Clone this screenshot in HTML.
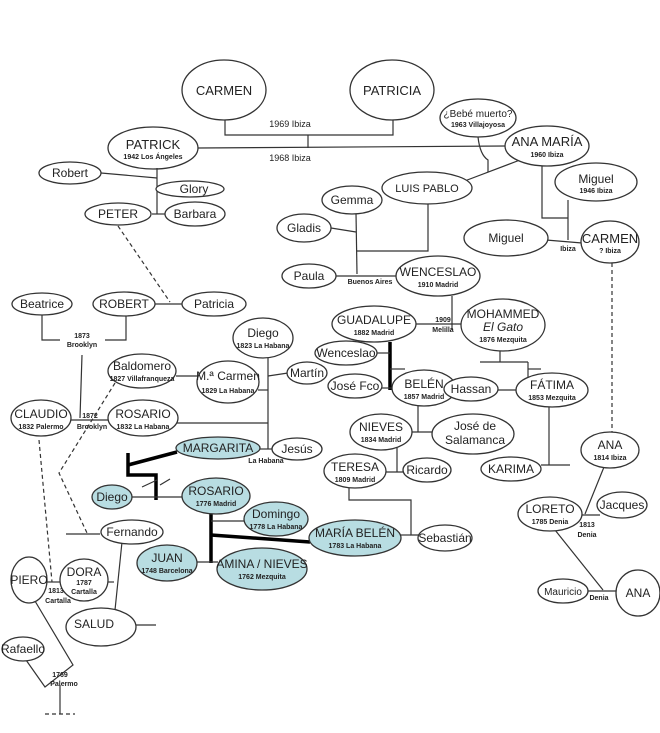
<!DOCTYPE html>
<html><head><meta charset="utf-8"><style>
html,body{margin:0;padding:0;background:#fff;}
svg{display:block;font-family:"Liberation Sans",Arial,sans-serif;}
ellipse{fill:#fff;stroke:#333;stroke-width:1.3}
ellipse.t{fill:#b8dde2}
line,polyline,path{stroke:#333;stroke-width:1.2;fill:none}
.k{stroke:#000;stroke-width:3.5}
.d{stroke-dasharray:4,3}
text{fill:#222;text-anchor:middle}
.n{font-size:12px}
.b{font-size:13px}
.s{font-size:7px;font-weight:bold}
</style></head><body>
<svg width="660" height="733" viewBox="0 0 660 733">
<!-- top -->
<polyline points="225,118 225,135 393,135 393,118"/>
<line x1="308" y1="135" x2="308" y2="148"/>
<line x1="198" y1="148" x2="506" y2="146"/>
<text x="290" y="127" style="font-size:9px">1969 Ibiza</text>
<text x="290" y="161" style="font-size:9px">1968 Ibiza</text>
<ellipse cx="224" cy="90" rx="42" ry="30"/><text class="b" x="224" y="95">CARMEN</text>
<ellipse cx="392" cy="90" rx="42" ry="30"/><text class="b" x="392" y="95">PATRICIA</text>
<path d="M478,137 Q480,155 488,160 L488,172"/>
<line x1="520" y1="160" x2="462" y2="182"/>
<polyline points="542,165 542,218 568,218"/>
<line x1="568" y1="200" x2="568" y2="240"/>
<line x1="546" y1="240" x2="582" y2="243"/>
<text class="s" x="568" y="251">Ibiza</text>
<line class="d" x1="612" y1="263" x2="612" y2="433"/>
<ellipse cx="153" cy="148" rx="45" ry="21"/><text class="b" x="153" y="149">PATRICK</text><text class="s" x="153" y="159">1942 Los Ángeles</text>
<ellipse cx="478" cy="118" rx="38" ry="19"/><text x="478" y="117" style="font-size:10px">¿Bebé muerto?</text><text class="s" x="478" y="127">1963 Villajoyosa</text>
<ellipse cx="547" cy="146" rx="42" ry="20"/><text class="b" x="547" y="146">ANA MARÍA</text><text class="s" x="547" y="157">1960 Ibiza</text>
<ellipse cx="427" cy="188" rx="45" ry="16"/><text x="427" y="192" style="font-size:11px">LUIS PABLO</text>
<ellipse cx="596" cy="182" rx="41" ry="19"/><text class="n" x="596" y="183">Miguel</text><text class="s" x="596" y="193">1946 Ibiza</text>
<ellipse cx="506" cy="238" rx="42" ry="18"/><text class="n" x="506" y="242">Miguel</text>
<ellipse cx="610" cy="242" rx="29" ry="21"/><text class="b" x="610" y="243">CARMEN</text><text class="s" x="610" y="253">? Ibiza</text>
<!-- Gemma group -->
<line x1="356" y1="213" x2="357" y2="274"/>
<line x1="331" y1="228" x2="356" y2="232"/>
<polyline points="357,251 428,251 428,204"/>
<line x1="336" y1="276" x2="398" y2="276"/>
<text class="s" x="370" y="284">Buenos Aires</text>
<ellipse cx="352" cy="200" rx="30" ry="14"/><text class="n" x="352" y="204">Gemma</text>
<ellipse cx="304" cy="228" rx="27" ry="14"/><text class="n" x="304" y="232">Gladis</text>
<ellipse cx="309" cy="276" rx="27" ry="12"/><text class="n" x="309" y="280">Paula</text>
<ellipse cx="438" cy="276" rx="42" ry="20"/><text class="n" x="438" y="276">WENCESLAO</text><text class="s" x="438" y="287">1910 Madrid</text>
<line x1="452" y1="296" x2="452" y2="330"/>
<line x1="416" y1="324" x2="462" y2="324"/>
<text class="s" x="443" y="322">1909</text><text class="s" x="443" y="332">Melilla</text>
<line class="k" x1="390" y1="342" x2="390" y2="390"/>
<line x1="377" y1="353" x2="390" y2="353"/>
<line x1="390" y1="369" x2="405" y2="369"/>
<line x1="382" y1="388" x2="392" y2="388"/>
<polyline points="500,350 500,362"/><line x1="480" y1="362" x2="528" y2="362"/>
<polyline points="528,362 528,390"/><line x1="528" y1="369" x2="541" y2="369"/>
<line x1="498" y1="390" x2="528" y2="390"/>
<line x1="549" y1="407" x2="549" y2="465"/><line x1="541" y1="465" x2="570" y2="465"/>
<ellipse cx="374" cy="324" rx="42" ry="18"/><text class="n" x="374" y="324">GUADALUPE</text><text class="s" x="374" y="335">1882 Madrid</text>
<ellipse cx="503" cy="325" rx="42" ry="26"/><text class="n" x="503" y="318">MOHAMMED</text><text class="n" x="503" y="331" style="font-style:italic">El Gato</text><text class="s" x="503" y="342">1876 Mezquita</text>
<ellipse cx="346" cy="353" rx="31" ry="12"/><text class="n" x="346" y="357">Wenceslao</text>
<ellipse cx="355" cy="386" rx="27" ry="12"/><text class="n" x="355" y="390">José Fco</text>
<ellipse cx="424" cy="388" rx="32" ry="18"/><text class="n" x="424" y="388">BELÉN</text><text class="s" x="424" y="399">1857 Madrid</text>
<ellipse cx="471" cy="389" rx="27" ry="12"/><text class="n" x="471" y="393">Hassan</text>
<ellipse cx="552" cy="390" rx="36" ry="17"/><text class="n" x="552" y="389">FÁTIMA</text><text class="s" x="552" y="400">1853 Mezquita</text>
<ellipse cx="511" cy="469" rx="30" ry="12"/><text class="n" x="511" y="473">KARIMA</text>
<line x1="418" y1="406" x2="418" y2="432"/><line x1="412" y1="432" x2="433" y2="432"/>
<line x1="397" y1="445" x2="397" y2="472"/><line x1="386" y1="472" x2="404" y2="472"/>
<polyline points="349,488 349,500 411,500 411,535 419,535"/>
<line x1="400" y1="535" x2="411" y2="535"/>
<ellipse cx="381" cy="432" rx="31" ry="18"/><text class="n" x="381" y="431">NIEVES</text><text class="s" x="381" y="442">1834 Madrid</text>
<ellipse cx="473" cy="434" rx="41" ry="20"/><text class="n" x="475" y="430">José de</text><text class="n" x="475" y="444">Salamanca</text>
<ellipse cx="355" cy="471" rx="31" ry="17"/><text class="n" x="355" y="471">TERESA</text><text class="s" x="355" y="482">1809 Madrid</text>
<ellipse cx="427" cy="470" rx="24" ry="12"/><text class="n" x="427" y="474">Ricardo</text>
<ellipse cx="445" cy="538" rx="27" ry="13"/><text class="n" x="445" y="542">Sebastián</text>
<!-- right bottom -->
<line x1="604" y1="467" x2="585" y2="514"/>
<line x1="580" y1="515" x2="600" y2="515"/>
<text class="s" x="587" y="527">1813</text><text class="s" x="587" y="537">Denia</text>
<line x1="555" y1="530" x2="603" y2="590"/>
<line x1="588" y1="591" x2="616" y2="591"/>
<text class="s" x="599" y="600">Denia</text>
<ellipse cx="610" cy="450" rx="29" ry="18"/><text class="n" x="610" y="449">ANA</text><text class="s" x="610" y="460">1814 Ibiza</text>
<ellipse cx="550" cy="514" rx="32" ry="17"/><text class="n" x="550" y="513">LORETO</text><text class="s" x="550" y="524">1785 Denia</text>
<ellipse cx="622" cy="505" rx="25" ry="13"/><text class="n" x="622" y="509">Jacques</text>
<ellipse cx="563" cy="591" rx="25" ry="12"/><text x="563" y="595" style="font-size:10px">Mauricio</text>
<ellipse cx="638" cy="593" rx="22" ry="23"/><text class="n" x="638" y="597">ANA</text>
<!-- left top -->
<line x1="101" y1="173" x2="157" y2="178"/>
<line x1="157" y1="168" x2="157" y2="214"/>
<line x1="152" y1="214" x2="165" y2="214"/>
<line x1="157" y1="189" x2="162" y2="189"/>
<line class="d" x1="118" y1="226" x2="170" y2="302"/>
<line x1="155" y1="304" x2="183" y2="304"/>
<ellipse cx="70" cy="173" rx="31" ry="11"/><text class="n" x="70" y="177">Robert</text>
<ellipse cx="190" cy="189" rx="34" ry="8"/><text class="n" x="194" y="193">Glory</text>
<ellipse cx="195" cy="214" rx="30" ry="12"/><text class="n" x="195" y="218">Barbara</text>
<ellipse cx="118" cy="214" rx="33" ry="11"/><text class="n" x="118" y="218">PETER</text>
<ellipse cx="42" cy="304" rx="30" ry="11"/><text class="n" x="42" y="308">Beatrice</text>
<ellipse cx="124" cy="304" rx="31" ry="12"/><text class="n" x="124" y="308">ROBERT</text>
<ellipse cx="214" cy="304" rx="32" ry="12"/><text class="n" x="214" y="308">Patricia</text>
<polyline points="42,315 42,340 60,340"/>
<polyline points="105,340 126,340 126,316"/>
<text class="s" x="82" y="338">1873</text><text class="s" x="82" y="347">Brooklyn</text>
<line x1="82" y1="355" x2="80" y2="418"/>
<line x1="71" y1="420" x2="110" y2="420"/>
<text class="s" x="90" y="418">1872</text><text class="s" x="92" y="429">Brooklyn</text>
<line x1="176" y1="376" x2="198" y2="376"/>
<line x1="268" y1="355" x2="268" y2="449"/>
<line x1="268" y1="376" x2="288" y2="373"/>
<line x1="258" y1="390" x2="268" y2="390"/>
<line x1="177" y1="423" x2="268" y2="423"/>
<line x1="259" y1="449" x2="274" y2="449"/>
<text class="s" x="266" y="463">La Habana</text>
<path class="d" d="M115,383 L59,473 L87,533"/>
<line class="d" x1="39" y1="440" x2="52" y2="582"/>
<ellipse cx="41" cy="418" rx="30" ry="18"/><text class="n" x="41" y="418">CLAUDIO</text><text class="s" x="41" y="429">1832 Palermo</text>
<ellipse cx="143" cy="418" rx="35" ry="18"/><text class="n" x="143" y="418">ROSARIO</text><text class="s" x="143" y="429">1832 La Habana</text>
<ellipse cx="142" cy="371" rx="34" ry="17"/><text class="n" x="142" y="370">Baldomero</text><text class="s" x="142" y="381">1827 Villafranqueza</text>
<ellipse cx="228" cy="382" rx="31" ry="21"/><text class="n" x="228" y="380">M.ª Carmen</text><text class="s" x="228" y="393">1829 La Habana</text>
<ellipse cx="263" cy="338" rx="30" ry="20"/><text class="n" x="263" y="337">Diego</text><text class="s" x="263" y="348">1823 La Habana</text>
<ellipse cx="307" cy="373" rx="20" ry="11"/><text class="n" x="307" y="377">Martín</text>
<ellipse cx="297" cy="449" rx="25" ry="11"/><text class="n" x="297" y="453">Jesús</text>
<!-- teal -->
<polyline class="k" points="177,452 128,465"/>
<polyline class="k" points="128,453 128,475 156,475 156,500"/>
<line x1="142" y1="487" x2="157" y2="480"/>
<line x1="160" y1="485" x2="170" y2="479"/>
<line x1="132" y1="497" x2="183" y2="497"/>
<line class="k" x1="211" y1="513" x2="211" y2="563"/>
<line x1="211" y1="521" x2="245" y2="521"/>
<line class="k" x1="211" y1="535" x2="310" y2="542"/>
<line x1="197" y1="562" x2="218" y2="562"/>
<ellipse class="t" cx="218" cy="448" rx="42" ry="11"/><text class="n" x="218" y="452">MARGARITA</text>
<ellipse class="t" cx="112" cy="497" rx="20" ry="12"/><text class="n" x="112" y="501">Diego</text>
<ellipse class="t" cx="216" cy="496" rx="34" ry="18"/><text class="n" x="216" y="495">ROSARIO</text><text class="s" x="216" y="506">1776 Madrid</text>
<ellipse class="t" cx="276" cy="519" rx="32" ry="17"/><text class="n" x="276" y="518">Domingo</text><text class="s" x="276" y="529">1778 La Habana</text>
<ellipse class="t" cx="355" cy="538" rx="46" ry="18"/><text class="n" x="355" y="537">MARÍA BELÉN</text><text class="s" x="355" y="548">1783 La Habana</text>
<ellipse class="t" cx="167" cy="563" rx="30" ry="18"/><text class="n" x="167" y="562">JUAN</text><text class="s" x="167" y="573">1748 Barcelona</text>
<ellipse class="t" cx="262" cy="569" rx="45" ry="21"/><text class="n" x="262" y="568">AMINA / NIEVES</text><text class="s" x="262" y="579">1762 Mezquita</text>
<!-- bottom left -->
<line x1="66" y1="534" x2="100" y2="534"/>
<line x1="122" y1="542" x2="115" y2="610"/>
<line x1="47" y1="582" x2="60" y2="582"/>
<line x1="108" y1="582" x2="114" y2="582"/>
<line x1="136" y1="625" x2="156" y2="625"/>
<polyline points="26,660 45,687 73,665 32,596"/>
<line x1="60" y1="685" x2="60" y2="714"/>
<line class="d" x1="45" y1="714" x2="75" y2="714"/>
<text class="s" x="60" y="677">1769</text><text class="s" x="64" y="686">Palermo</text>
<text class="s" x="56" y="593">1813</text><text class="s" x="58" y="603">Cartalla</text>
<ellipse cx="132" cy="532" rx="31" ry="12"/><text class="n" x="132" y="536">Fernando</text>
<ellipse cx="29" cy="580" rx="18" ry="23"/><text class="n" x="29" y="584">PIERO</text>
<ellipse cx="84" cy="580" rx="24" ry="21"/><text class="n" x="84" y="576">DORA</text><text class="s" x="84" y="585">1787</text><text class="s" x="84" y="594">Cartalla</text>
<ellipse cx="101" cy="627" rx="35" ry="19"/><text class="n" x="94" y="628">SALUD</text>
<ellipse cx="23" cy="649" rx="21" ry="12"/><text class="n" x="23" y="653">Rafaello</text>
</svg>
</body></html>
